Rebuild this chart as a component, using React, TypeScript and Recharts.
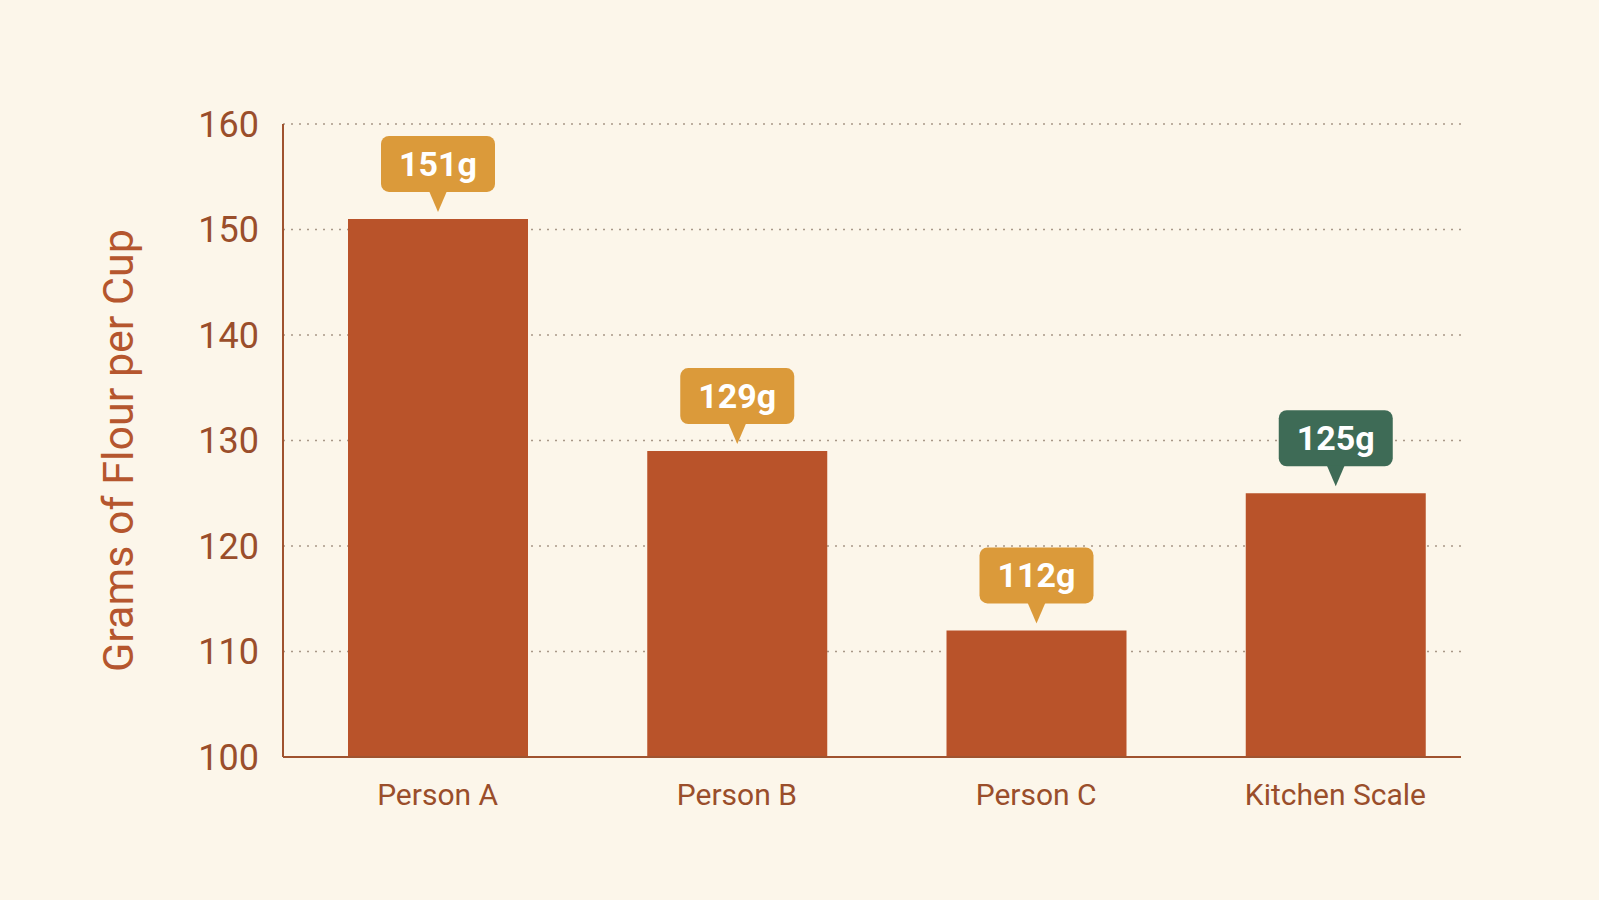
import { BarChart, Bar, XAxis, YAxis, CartesianGrid, LabelList } from 'recharts'

const categories = ['Person A', 'Person B', 'Person C', 'Kitchen Scale']
const grams = [151, 129, 112, 125]
const calloutColors = ['#DB9A3A', '#DB9A3A', '#DB9A3A', '#3E6B56']
const yTicks = [100, 110, 120, 130, 140, 150, 160]

const data = categories.map((name, i) => ({ name, grams: grams[i] }))

const FONT = 'Roboto, "Noto Sans", sans-serif'

function Callout(props: any) {
  const { x, y, width, value, index } = props
  const cx = x + width / 2
  const tip = y - 7
  const boxBottom = tip - 20
  const boxH = 56
  const boxW = 114
  return (
    <g>
      <rect x={cx - boxW / 2} y={boxBottom - boxH} width={boxW} height={boxH} rx={8} fill={calloutColors[index]} />
      <path d={`M${cx - 9},${boxBottom - 1} L${cx + 9},${boxBottom - 1} L${cx},${tip} Z`} fill={calloutColors[index]} />
      <text
        x={cx}
        y={boxBottom - boxH / 2}
        textAnchor="middle"
        dominantBaseline="central"
        fill="#FFFFFF"
        fontSize={34}
        fontWeight={700}
        fontFamily={FONT}
      >
        {value}g
      </text>
    </g>
  )
}

function YLabel(props: any) {
  const { viewBox } = props
  const cy = viewBox.y + viewBox.height / 2 + 10
  const cx = 118
  return (
    <text
      x={cx}
      y={cy}
      transform={`rotate(-90 ${cx} ${cy})`}
      textAnchor="middle"
      dominantBaseline="central"
      fill="#B5562E"
      fontSize={43}
      fontFamily={FONT}
    >
      Grams of Flour per Cup
    </text>
  )
}

export default function App() {
  return (
    <div style={{ position: 'fixed', left: 0, top: 0, width: 1599, height: 900, background: '#FCF6EA' }}>
      <BarChart width={1599} height={900} data={data} margin={{ top: 124, right: 138, bottom: 83, left: 0 }}>
        <CartesianGrid vertical={false} stroke="#A89888" strokeDasharray="2 6" strokeWidth={1.5} />
        <XAxis
          dataKey="name"
          height={60}
          padding={{ left: 5, right: -24 }}
          axisLine={{ stroke: '#A0532F', strokeWidth: 2 }}
          tickLine={false}
          tickSize={0}
          tickMargin={27}
          tick={{ fill: '#9A4E2B', fontSize: 30, fontFamily: FONT }}
        />
        <YAxis
          width={283}
          domain={[100, 160]}
          ticks={yTicks}
          allowDataOverflow
          axisLine={{ stroke: '#A0532F', strokeWidth: 2 }}
          tickLine={false}
          tickSize={0}
          tickMargin={24}
          tick={{ fill: '#9A4E2B', fontSize: 36, fontFamily: FONT }}
          label={<YLabel />}
        />
        <Bar dataKey="grams" fill="#B9532A" barSize={180} isAnimationActive={false}>
          <LabelList dataKey="grams" content={<Callout />} />
        </Bar>
      </BarChart>
    </div>
  )
}
